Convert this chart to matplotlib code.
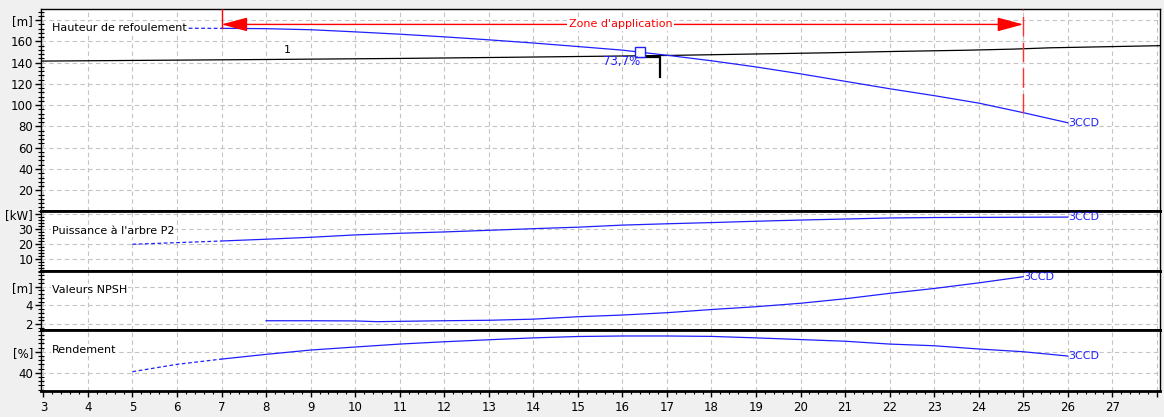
import numpy as np
import matplotlib
matplotlib.use("Agg")
import matplotlib.pyplot as plt
from matplotlib.ticker import FixedLocator, FixedFormatter, MultipleLocator

# --- data ---
head_q = [5, 7, 8, 9, 10, 11, 12, 13, 14, 15, 16, 17, 18, 19, 20, 21, 22, 23, 24, 25, 26]
head_h = [172.5, 172.3, 172, 171, 169, 166.8, 164.3, 161.5, 158.5, 155.2, 151.8, 147,
          141.8, 136, 129.5, 122.5, 115.5, 109, 102, 93, 83.5]

sys_q = [2.94, 8, 11, 13.3, 15.4, 17, 19, 20.6, 22, 23.7, 24.8, 25.6, 28.07]
sys_h = [141.5, 143, 144, 145, 146, 146.8, 148.2, 149.3, 150.5, 151.7, 152.8, 154, 156]

pow_q = [5, 6, 7, 8, 9, 10, 11, 12, 13, 14, 15, 16, 17, 18, 19, 20, 21, 22, 23, 24, 25, 26]
pow_p = [19.9, 21, 22.1, 23.3, 24.6, 26.2, 27.3, 28.2, 29.3, 30.4, 31.4, 32.8, 33.7,
         34.5, 35.4, 36.2, 36.9, 37.6, 37.9, 38.0, 38.1, 38.2]

npsh_q = [8, 9, 10, 10.5, 11.2, 12, 13, 14, 15, 16, 17, 18, 19, 20, 21, 22, 23, 24, 25]
npsh_m = [2.35, 2.35, 2.33, 2.25, 2.3, 2.35, 2.4, 2.52, 2.78, 2.96, 3.21, 3.55, 3.85,
          4.22, 4.7, 5.28, 5.8, 6.4, 7.06]

eff_q = [5, 6, 7, 8, 9, 10, 11, 12, 13, 14, 15, 16, 17, 18, 19, 20, 21, 22, 23, 24, 25, 26]
eff_pct = [41, 48, 53, 57.5, 61.6, 64.5, 67.3, 69.5, 71.4, 73.2, 74.5, 75, 75, 74.6,
           73.2, 71.6, 70, 67.3, 65.7, 62.6, 60, 55.9]

ext_limit = 7          # below this flow the curves are drawn dashed
zone_q = (7, 25)       # zone d'application
zone_h = 176
duty_q, duty_h = 16.4, 150      # marker on head curve
duty_eff_text = "73,7%"
cross_q, cross_h, cross_low = 16.84, 145.5, 126.8
pump_name = "3CCD"

blue = "#2020ff"
W, H = 1164, 417
fig = plt.figure(figsize=(W / 100, H / 100), dpi=100, facecolor="#f0f0f0")

def add_panel(y0, y1):
    return fig.add_axes([40.7 / W, 1 - y1 / H, (1160 - 40.7) / W, (y1 - y0) / H])

ax1 = add_panel(9, 211)
ax2 = add_panel(211, 271)
ax3 = add_panel(271, 330)
ax4 = add_panel(330, 391)
axes = [ax1, ax2, ax3, ax4]

ylims = [(0.5, 190.5), (1.9, 42.3), (1.36, 7.67), (22.6, 80.7)]
yticks = [[20, 40, 60, 80, 100, 120, 140, 160, 180], [10, 20, 30, 40], [2, 4, 6], [40, 60]]
ylabels = [["20", "40", "60", "80", "100", "120", "140", "160", "[m]"],
           ["10", "20", "30", "[kW]"], ["2", "4", "[m]"], ["40", "[%]"]]
yminor = [4, 2, 0.4, 4]
titles = ["Hauteur de refoulement", "Puissance à l'arbre P2", "Valeurs NPSH", "Rendement"]
title_y = [0.906, 0.667, 0.678, 0.672]

for i, ax in enumerate(axes):
    ax.set_xlim(2.94, 28.07)
    ax.set_ylim(*ylims[i])
    ax.xaxis.set_major_locator(FixedLocator(list(range(3, 29))))
    ax.xaxis.set_minor_locator(MultipleLocator(0.2))
    ax.yaxis.set_major_locator(FixedLocator(yticks[i]))
    ax.yaxis.set_major_formatter(FixedFormatter(ylabels[i]))
    ax.yaxis.set_minor_locator(MultipleLocator(yminor[i]))
    ax.set_axisbelow(True)
    ax.grid(True, which="major", color="#c4c4c4", linestyle=(0, (4, 3)), lw=0.8)
    ax.tick_params(axis="y", which="major", direction="out", length=4, width=1,
                   labelsize=8.5, pad=1.5)
    ax.tick_params(axis="y", which="minor", direction="inout", length=4, width=0.8)
    ax.spines["left"].set_linewidth(1)
    ax.spines["right"].set_linewidth(1)
    ax.spines["bottom"].set_linewidth(2)
    ax.spines["top"].set_linewidth(2 if i > 0 else 1)
    if i < 3:
        ax.tick_params(axis="x", which="both", bottom=False, labelbottom=False)
    ax.text(0.0101, title_y[i], titles[i], transform=ax.transAxes, fontsize=8,
            va="center", ha="left", zorder=6,
            bbox=dict(facecolor="white", edgecolor="none", pad=0.5))

ax4.xaxis.set_major_formatter(FixedFormatter([str(v) for v in range(3, 29)]))
ax4.tick_params(axis="x", which="major", direction="out", length=4, width=1, labelsize=8.5)
ax4.tick_params(axis="x", which="minor", direction="out", length=2, width=0.8)
labels = ax4.get_xticklabels()
labels[-1].set_visible(False)

def plot_split(ax, q, v):
    q = np.array(q)
    v = np.array(v)
    ext = q <= ext_limit
    if ext.sum() > 1:
        ax.plot(q[ext], v[ext], color=blue, lw=0.9, linestyle=(0, (3, 2)), zorder=3)
        main = q >= ext_limit
    else:
        main = np.ones_like(q, dtype=bool)
    ax.plot(q[main], v[main], color=blue, lw=0.9, zorder=3)
    ax.text(q[-1], v[-1], pump_name, color=blue, fontsize=8, ha="left", va="center")

# head + system curve
ax1.plot(sys_q, sys_h, color="black", lw=0.9, zorder=3)
ax1.text(8.48, 152, "1", fontsize=8, ha="center", va="center")
plot_split(ax1, head_q, head_h)

# zone d'application
top = ylims[0][1]
ax1.plot([zone_q[0], zone_q[0]], [top, np.interp(zone_q[0], head_q, head_h)],
         color="red", lw=1, zorder=4)
ax1.plot([zone_q[1], zone_q[1]], [np.interp(zone_q[1], head_q, head_h), top],
         color="#ff3030", lw=1, linestyle=(0, (14, 4.5)), zorder=4)
ax1.annotate("", xy=(zone_q[0], zone_h), xytext=(zone_q[1], zone_h),
             arrowprops=dict(arrowstyle="<|-|>,head_length=1.6,head_width=0.43",
                             mutation_scale=10, color="red", lw=1,
                             shrinkA=0, shrinkB=0), zorder=4)
ax1.text(sum(zone_q) / 2 - 0.04, zone_h, "Zone d'application", color="red", fontsize=8,
         ha="center", va="center", zorder=5,
         bbox=dict(facecolor="white", edgecolor="none", pad=1))

# duty point
ax1.plot([duty_q], [duty_h], marker="s", markersize=7, mfc="white", mec=blue,
         mew=1, zorder=6)
ax1.text(duty_q - 0.01, 141.3, duty_eff_text, color=blue, fontsize=8.5,
         ha="right", va="center", zorder=6)
ax1.plot([16.3, cross_q, cross_q], [cross_h, cross_h, cross_low], color="black",
         lw=1.6, zorder=5)

plot_split(ax2, pow_q, pow_p)
plot_split(ax3, npsh_q, npsh_m)
plot_split(ax4, eff_q, eff_pct)

fig.savefig("out.png", dpi=100, facecolor=fig.get_facecolor())
